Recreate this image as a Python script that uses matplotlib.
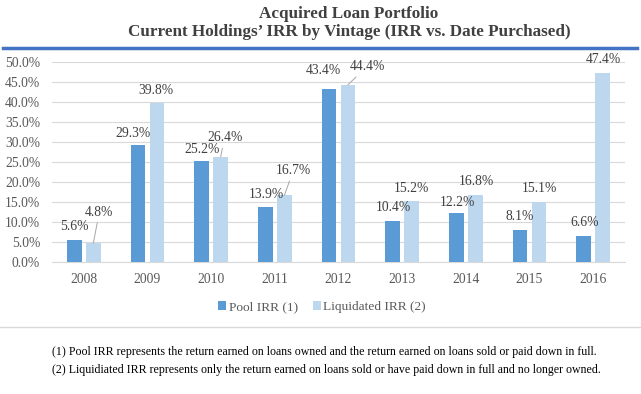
import matplotlib
matplotlib.use('Agg')
import matplotlib.pyplot as plt
import numpy as np

years = ['2008', '2009', '2010', '2011', '2012', '2013', '2014', '2015', '2016']
pool_irr = [5.6, 29.3, 25.2, 13.9, 43.4, 10.4, 12.2, 8.1, 6.6]
liq_irr = [4.8, 39.8, 26.4, 16.7, 44.4, 15.2, 16.8, 15.1, 47.4]

# label offsets in pixels (dx, dy up) from bar top, like excel's hand-placed labels
pool_off = [(0, 13), (-5, 12), (0, 12), (1, 12), (-6, 18), (1, 13), (1, 11), (0, 13), (1, 13)]
liq_off = [(6, 31), (-1, 13), (4, 19), (9, 25), (19, 18), (0, 13), (1, 14), (1, 13), (1, 13)]
leader = [True, False, True, True, True, False, False, False, False]

W, H = 641, 394
serif = 'Liberation Serif'
dark = '#5B9BD5'
light = '#BDD7EE'
txt = '#404040'
tick_c = '#595959'
fs = 9.8

fig = plt.figure(figsize=(W / 100, H / 100), dpi=100)
fig.patch.set_facecolor('white')

ax = fig.add_axes([52 / W, 1 - 262.3 / H, (625 - 52) / W, (262.3 - 62.3) / H])

x = np.arange(len(years))
bw = 0.235
off = 0.149
ax.bar(x - off, pool_irr, bw, color=dark, label='Pool IRR (1)', zorder=3)
ax.bar(x + off, liq_irr, bw, color=light, label='Liquidated IRR (2)', zorder=3)

ax.set_xlim(-0.5, len(years) - 0.5)
ax.set_ylim(0, 50)
ax.set_yticks(np.arange(0, 50.1, 5))
ax.set_yticklabels([f'{v:.1f}%' for v in np.arange(0, 50.1, 5)])
ax.set_xticks(x)
ax.set_xticklabels(years)
ax.grid(axis='y', color='#D9D9D9', linewidth=0.8, zorder=0)
for s in ['top', 'right', 'left']:
    ax.spines[s].set_visible(False)
ax.spines['bottom'].set_color('#D9D9D9')
ax.tick_params(length=0, labelsize=fs, labelcolor=tick_c)
ax.tick_params(axis='y', pad=8.5)
ax.tick_params(axis='x', pad=8)
for lab in ax.get_xticklabels() + ax.get_yticklabels():
    lab.set_fontfamily(serif)

for i, v in enumerate(pool_irr):
    dx, dy = pool_off[i]
    ax.annotate(f'{v:.1f}%', xy=(i - off, v), xytext=(dx, dy),
                textcoords='offset pixels', ha='center', va='center',
                fontsize=fs, family=serif, color=txt, zorder=5)

for i, v in enumerate(liq_irr):
    dx, dy = liq_off[i]
    arrow = dict(arrowstyle='-', color='#A6A6A6', lw=0.7, shrinkA=1, shrinkB=0) if leader[i] else None
    ax.annotate(f'{v:.1f}%', xy=(i + off, v), xytext=(dx, dy),
                textcoords='offset pixels', ha='center', va='center',
                fontsize=fs, family=serif, color=txt, zorder=5,
                arrowprops=arrow)

# title
fig.text(349 / W, 1 - 14 / H, 'Acquired Loan Portfolio', ha='center', va='center',
         fontsize=12.3, fontweight='bold', family=serif, color=txt)
fig.text(349 / W, 1 - 32 / H, 'Current Holdings\u2019 IRR by Vintage (IRR vs. Date Purchased)',
         ha='center', va='center', fontsize=12.3, fontweight='bold', family=serif, color=txt)

# blue rule under title and gray separator
fig.add_artist(plt.Line2D([3 / W, 637 / W], [1 - 48 / H, 1 - 48 / H], color='#4472C4', lw=2.5))
fig.add_artist(plt.Line2D([0, 1], [1 - 327 / H, 1 - 327 / H], color='#D9D9D9', lw=1))

leg = fig.legend(loc='center', bbox_to_anchor=(322 / W, 1 - 307 / H), ncol=2, frameon=False,
                 prop={'family': serif, 'size': 9.6}, handlelength=0.6, handleheight=0.6,
                 handletextpad=0.2, columnspacing=1.1)
for t in leg.get_texts():
    t.set_color(tick_c)

fig.text(52 / W, 1 - 352 / H,
         '(1) Pool IRR represents the return earned on loans owned and the return earned on loans sold or paid down in full.',
         ha='left', va='center', fontsize=8.55, family=serif, color='black')
fig.text(52 / W, 1 - 370 / H,
         '(2) Liquidiated IRR represents only the return earned on loans sold or have paid down in full and no longer owned.',
         ha='left', va='center', fontsize=8.55, family=serif, color='black')

fig.savefig('out.png', dpi=100)
